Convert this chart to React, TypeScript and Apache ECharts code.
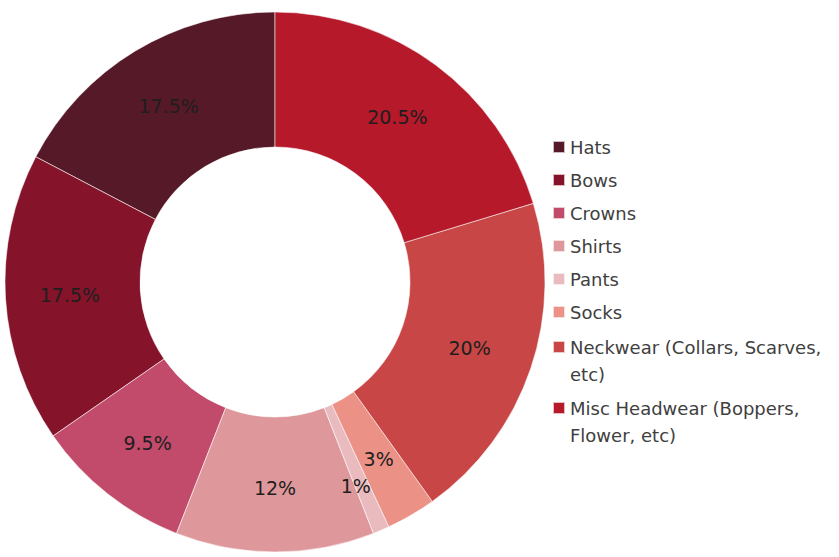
import React, { useEffect, useRef } from "react";
import * as echarts from "echarts";

const categories = [
  "Hats",
  "Bows",
  "Crowns",
  "Shirts",
  "Pants",
  "Socks",
  "Neckwear (Collars, Scarves, etc)",
  "Misc Headwear (Boppers, Flower, etc)",
];
const values = [17.5, 17.5, 9.5, 12, 1, 3, 20, 20.5];
const colors = [
  "#561927",
  "#85142B",
  "#C24A6A",
  "#DE979A",
  "#E9BABE",
  "#EC9186",
  "#C84646",
  "#B5192A",
];
const wrappedNames: Record<string, string> = {
  "Neckwear (Collars, Scarves, etc)": "Neckwear (Collars, Scarves,\netc)",
  "Misc Headwear (Boppers, Flower, etc)": "Misc Headwear (Boppers,\nFlower, etc)",
};

const FONT = "DejaVu Sans";
const TOP_ICON = "path://M0 0H12V12H0Z M0 39H0.01V39.01H0Z";

export default function App() {
  const ref = useRef<HTMLDivElement>(null);
  useEffect(() => {
    if (!ref.current) return;
    const chart = echarts.init(ref.current, undefined, { renderer: "svg" });
    const legendText = { fontFamily: FONT, fontSize: 18, color: "#404040" };
    chart.setOption({
      animation: false,
      backgroundColor: "#ffffff",
      legend: [
        {
          orient: "vertical",
          left: 552,
          top: 137,
          padding: 0,
          itemWidth: 12,
          itemHeight: 12,
          itemGap: 13,
          icon: "rect",
          selectedMode: false,
          data: categories.slice(0, 6),
          textStyle: { ...legendText, lineHeight: 20 },
        },
        {
          orient: "vertical",
          left: 552,
          top: 333.5,
          padding: 0,
          itemWidth: 12,
          itemHeight: 39,
          icon: TOP_ICON,
          selectedMode: false,
          data: [categories[6]],
          formatter: (n: string) => wrappedNames[n] || n,
          textStyle: { ...legendText, lineHeight: 27 },
        },
        {
          orient: "vertical",
          left: 552,
          top: 394.5,
          padding: 0,
          itemWidth: 12,
          itemHeight: 39,
          icon: TOP_ICON,
          selectedMode: false,
          data: [categories[7]],
          formatter: (n: string) => wrappedNames[n] || n,
          textStyle: { ...legendText, lineHeight: 27 },
        },
      ],
      series: [
        {
          type: "pie",
          center: [275, 282],
          radius: [135, 270],
          startAngle: 90,
          clockwise: false,
          avoidLabelOverlap: false,
          label: {
            show: true,
            position: "inside",
            formatter: (p: any) => p.value + "%",
            fontFamily: FONT,
            fontSize: 19,
            color: "#1e1e1e",
          },
          labelLine: { show: false },
          labelLayout: (p: any) => (p.dataIndex === 4 ? { dy: 15 } : {}),
          itemStyle: { borderColor: "rgba(255,255,255,0.7)", borderWidth: 0.8 },
          emphasis: { disabled: true },
          data: categories.map((name, i) => ({
            name,
            value: values[i],
            itemStyle: { color: colors[i] },
          })),
        },
      ],
    });
    return () => chart.dispose();
  }, []);
  return (
    <div
      ref={ref}
      style={{ position: "absolute", left: 0, top: 0, width: 839, height: 557 }}
    />
  );
}
